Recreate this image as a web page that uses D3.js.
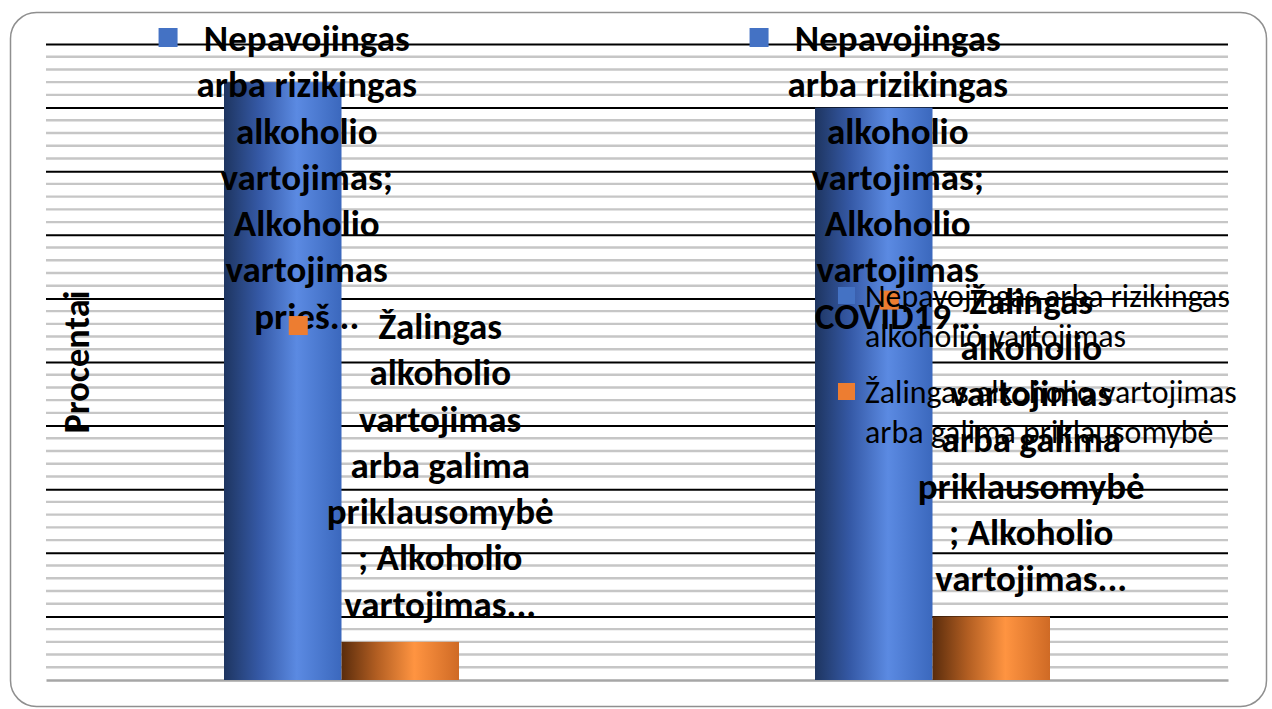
<!DOCTYPE html>
<html>
<head>
<meta charset="utf-8">
<script src="https://cdn.jsdelivr.net/npm/d3@7"></script>
<style>
  html, body { margin: 0; padding: 0; background: #fff; }
  svg { display: block; }
</style>
</head>
<body>
<div id="chart"></div>
<script>
// Chart data
const categories = ["Alkoholio vartojimas prieš COVID19", "Alkoholio vartojimas COVID19 metu"];
const seriesNames = [
  "Nepavojingas arba rizikingas alkoholio vartojimas",
  "Žalingas alkoholio vartojimas arba galima priklausomybė"
];
const nepavojingas = [94, 90];
const zalingas = [6, 10];

// Data label lines (as wrapped and shortened in the original)
const nepavojingasLabels = [
  ["Nepavojingas", "arba rizikingas", "alkoholio", "vartojimas;", "Alkoholio", "vartojimas", "prieš..."],
  ["Nepavojingas", "arba rizikingas", "alkoholio", "vartojimas;", "Alkoholio", "vartojimas", "COVID19..."]
];
const zalingasLabels = [
  ["Žalingas", "alkoholio", "vartojimas", "arba galima", "priklausomybė", "; Alkoholio", "vartojimas..."],
  ["Žalingas", "alkoholio", "vartojimas", "arba galima", "priklausomybė", "; Alkoholio", "vartojimas..."]
];
const legendLines = [
  ["Nepavojingas arba rizikingas", "alkoholio vartojimas"],
  ["Žalingas alkoholio vartojimas", "arba galima priklausomybė"]
];
const yTitle = "Procentai";
const yMax = 100;
const majorStep = 10;
const minorStep = 2;

// Sizes
const W = 1272, H = 709;
const margin = { top: 44, right: 44, bottom: 29, left: 46 };
const width = W - margin.left - margin.right;
const height = H - margin.top - margin.bottom;
const FONT = "Carlito, Calibri, Lato, 'Open Sans', sans-serif";

const svg = d3.select("#chart")
  .append("svg")
  .attr("width", W)
  .attr("height", H);

// Fit a font size so that a string gets a wanted width
function fitSize(str, weight, target)
{
  const t = svg.append("text")
    .attr("font-family", FONT)
    .attr("font-weight", weight)
    .attr("font-size", 100)
    .text(str);
  const w = t.node().getComputedTextLength();
  t.remove();
  return 100 * target / w;
}

const labelSize = fitSize("priklausomybė", "bold", 227);
const legendSize = fitSize("Nepavojingas arba rizikingas", "normal", 365);
const titleSize = fitSize(yTitle, "bold", 143);

// Gradients for the bars
const defs = svg.append("defs");
const gradients = [
  { id: "gBlue", stops: [["0%", "#1e3560"], ["30%", "#3559a6"], ["62%", "#5b8ae2"], ["100%", "#3b68bd"]] },
  { id: "gOrange", stops: [["0%", "#5a2c0c"], ["30%", "#b25e22"], ["62%", "#ff9441"], ["100%", "#cf6a25"]] }
];
gradients.forEach(g => {
  const lg = defs.append("linearGradient")
    .attr("id", g.id)
    .attr("x1", "0%").attr("x2", "100%")
    .attr("y1", "0%").attr("y2", "0%");
  g.stops.forEach(s => lg.append("stop").attr("offset", s[0]).attr("stop-color", s[1]));
});

// Outer frame
svg.append("rect")
  .attr("x", 10.5)
  .attr("y", 12.5)
  .attr("width", 1256)
  .attr("height", 694)
  .attr("rx", 26)
  .attr("fill", "#fff")
  .attr("stroke", "#8f8f8f")
  .attr("stroke-width", 1.5);

const g = svg.append("g")
  .attr("transform", "translate(" + margin.left + "," + margin.top + ")");

// Scales
const x = d3.scaleBand()
  .domain(categories)
  .range([0, width]);

const barW = x.bandwidth() / 5.03;
const xs = d3.scaleBand()
  .domain(seriesNames)
  .range([-barW, barW]);

const y = d3.scaleLinear()
  .domain([0, yMax])
  .range([height, 0]);

// Minor grid
const minorTicks = d3.range(minorStep, yMax, minorStep).filter(v => v % majorStep !== 0);
g.append("g")
  .selectAll("line")
  .data(minorTicks)
  .join("line")
  .attr("x1", 0)
  .attr("x2", width)
  .attr("y1", d => y(d))
  .attr("y2", d => y(d))
  .attr("stroke", "#c6c6c6")
  .attr("stroke-width", 2.4);

// Major grid
g.append("g")
  .call(d3.axisLeft(y).tickValues(d3.range(majorStep, yMax + 1, majorStep)).tickSize(-width).tickFormat(""))
  .call(a => a.select(".domain").remove())
  .call(a => a.selectAll(".tick line").attr("stroke", "#000").attr("stroke-width", 2));

// X axis line
g.append("g")
  .attr("transform", "translate(0," + height + ")")
  .call(d3.axisBottom(x).tickSize(0).tickFormat(""))
  .call(a => a.select(".domain").attr("stroke", "#a6a6a6").attr("stroke-width", 2.4));

// Bars
const series = [
  { name: seriesNames[0], values: nepavojingas, fill: "url(#gBlue)", key: "#4472c4", labels: nepavojingasLabels },
  { name: seriesNames[1], values: zalingas, fill: "url(#gOrange)", key: "#ed7d31", labels: zalingasLabels }
];

series.forEach(s => {
  g.append("g")
    .selectAll("rect")
    .data(categories)
    .join("rect")
    .attr("x", (c) => x(c) + x.bandwidth() / 2 + xs(s.name))
    .attr("y", (c, i) => y(s.values[i]))
    .attr("width", xs.bandwidth())
    .attr("height", (c, i) => height - y(s.values[i]))
    .attr("fill", s.fill);
});

// Data labels
const lineH = 46.3;
series.forEach((s, si) => {
  categories.forEach((c, i) => {
    const lines = s.labels[i];
    const cx = x(c) + x.bandwidth() / 2 + xs(s.name) + xs.bandwidth() / 2 + (si === 0 ? 24 : 40);
    let first = y(s.values[i]) - 38 - (lines.length - 1) * lineH;
    if (first < -6) first = -6;

    const lab = g.append("g");
    const t = lab.append("text")
      .attr("font-family", FONT)
      .attr("font-weight", "bold")
      .attr("font-size", labelSize)
      .attr("text-anchor", "middle")
      .attr("fill", "#000");
    t.selectAll("tspan")
      .data(lines)
      .join("tspan")
      .attr("x", cx)
      .attr("y", (d, k) => first + k * lineH)
      .attr("dy", "0.35em")
      .text(d => d);

    const maxW = d3.max(t.selectAll("tspan").nodes(), n => n.getComputedTextLength());
    lab.append("rect")
      .attr("x", cx - maxW / 2 - 38)
      .attr("y", first - 10)
      .attr("width", 19)
      .attr("height", 19)
      .attr("fill", s.key);
  });
});

// Legend
const legend = svg.append("g")
  .attr("transform", "translate(838,287)");
series.forEach((s, i) => {
  const item = legend.append("g")
    .attr("transform", "translate(0," + i * 96 + ")");
  item.append("rect")
    .attr("width", 17)
    .attr("height", 17)
    .attr("fill", s.key);
  item.append("text")
    .attr("font-family", FONT)
    .attr("font-size", legendSize)
    .attr("fill", "#000")
    .selectAll("tspan")
    .data(legendLines[i])
    .join("tspan")
    .attr("x", 27)
    .attr("y", (d, k) => 9 + k * 39.5)
    .attr("dy", "0.35em")
    .text(d => d);
});

// Y axis title
svg.append("text")
  .attr("transform", "translate(76," + (margin.top + height / 2) + ") rotate(-90)")
  .attr("text-anchor", "middle")
  .attr("dy", "0.35em")
  .attr("font-family", FONT)
  .attr("font-weight", "bold")
  .attr("font-size", titleSize)
  .attr("fill", "#000")
  .text(yTitle);
</script>
</body>
</html>
